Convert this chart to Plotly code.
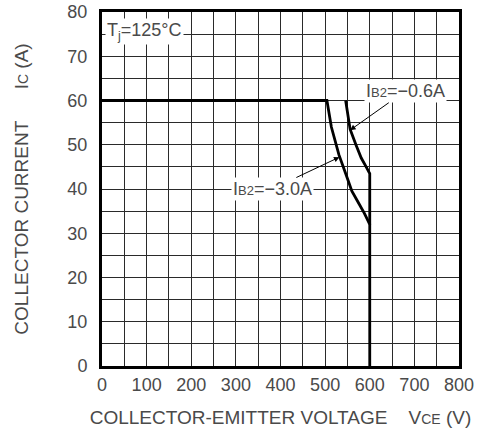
import plotly.graph_objects as go

# Data
vce_ib3 = [0, 504, 514, 531, 546, 560, 574, 588, 600, 600]
ic_ib3 = [60, 60, 54, 47.7, 43.5, 39.5, 37, 34.5, 32, 0]
vce_ib06 = [546, 550, 556, 569, 581, 592, 600, 600]
ic_ib06 = [60, 57, 53.5, 50, 47, 45, 43.5, 32]

x_ticks = [0, 100, 200, 300, 400, 500, 600, 700, 800]
y_ticks = [0, 10, 20, 30, 40, 50, 60, 70, 80]

font_family = "Liberation Sans, Arial, sans-serif"
txt_color = "#4a4a4a"
grid_color = "#2a2a2a"

fig = go.Figure()
fig.add_trace(go.Scatter(x=vce_ib3, y=ic_ib3, mode="lines",
                         line=dict(color="black", width=2.8), showlegend=False))
fig.add_trace(go.Scatter(x=vce_ib06, y=ic_ib06, mode="lines",
                         line=dict(color="black", width=2.8), showlegend=False))

fig.add_annotation(x=7, y=75.7, xref="x", yref="y", xanchor="left",
                   text="T<sub>j</sub>=125°C", showarrow=False,
                   bgcolor="white", font=dict(size=18, color=txt_color, family=font_family),
                   borderpad=1)
fig.add_annotation(x=556, y=53.3, ax=679, ay=62.1, xref="x", yref="y", axref="x", ayref="y",
                   text="I<span style='font-size:13px'>B2</span>=−0.6A", showarrow=True,
                   arrowhead=2, arrowsize=1.1, arrowwidth=1, arrowcolor="black",
                   bgcolor="white", font=dict(size=18, color=txt_color, family=font_family),
                   borderpad=1)
fig.add_annotation(x=532, y=47.2, ax=381, ay=40, xref="x", yref="y", axref="x", ayref="y",
                   text="I<span style='font-size:13px'>B2</span>=−3.0A", showarrow=True,
                   arrowhead=2, arrowsize=1.1, arrowwidth=1, arrowcolor="black",
                   bgcolor="white", font=dict(size=18, color=txt_color, family=font_family),
                   borderpad=1)

fig.update_xaxes(range=[0, 800], tickvals=x_ticks, ticktext=[str(v) for v in x_ticks],
                 showgrid=True, gridcolor=grid_color, gridwidth=1,
                 minor=dict(dtick=50, showgrid=True, gridcolor=grid_color, gridwidth=1),
                 showline=True, linecolor="black", linewidth=3, mirror=True,
                 ticks="", zeroline=False, ticklabelstandoff=0, automargin=False,
                 tickfont=dict(size=18, color=txt_color, family=font_family),
                 title=dict(text="COLLECTOR-EMITTER VOLTAGE    V<span style='font-size:14px'>CE</span> (V)",
                            font=dict(size=19, color=txt_color, family=font_family), standoff=18))
fig.update_yaxes(range=[0, 80], tickvals=y_ticks, ticktext=[str(v) for v in y_ticks],
                 showgrid=True, gridcolor=grid_color, gridwidth=1,
                 minor=dict(dtick=5, showgrid=True, gridcolor=grid_color, gridwidth=1),
                 showline=True, linecolor="black", linewidth=3, mirror=True,
                 ticks="", zeroline=False, ticklabelstandoff=8, automargin=False,
                 tickfont=dict(size=18, color=txt_color, family=font_family),
                 title=dict(text="\u00a0\u00a0\u00a0COLLECTOR CURRENT      I<span style='font-size:14px'>C</span> (A)",
                            font=dict(size=19, color=txt_color, family=font_family), standoff=34))

fig.update_layout(width=482, height=434, margin=dict(l=102, r=23, t=12, b=68),
                  plot_bgcolor="white", paper_bgcolor="white")

fig.write_html("out.html", config={"displayModeBar": False},
               post_script="document.body.style.margin='0px';")
